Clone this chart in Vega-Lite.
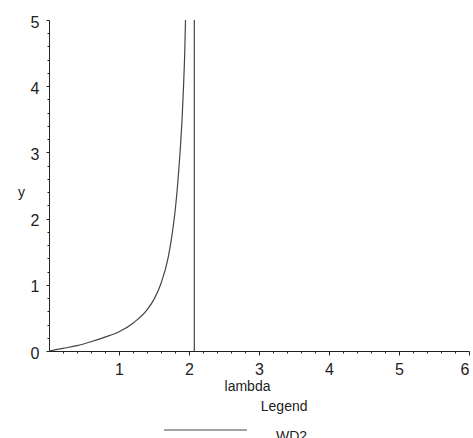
{
  "$schema": "https://vega.github.io/schema/vega-lite/v6.json",
  "autosize": "none",
  "width": 420,
  "height": 331,
  "padding": {"left": 49, "top": 20, "right": 4, "bottom": 87},
  "background": "white",
  "config": {
    "view": {"stroke": null},
    "font": "Liberation Sans, Arial, sans-serif",
    "axis": {"grid": false, "domainColor": "#222", "tickColor": "#222", "labelColor": "#222", "titleColor": "#222", "labelFont": "Liberation Sans, Arial, sans-serif", "titleFont": "Liberation Sans, Arial, sans-serif", "labelFontSize": 16, "titleFontSize": 14, "titleFontWeight": "normal", "domainWidth": 1, "tickWidth": 1}
  },
  "data": {
    "values": [
      {"x": 0.0, "y": 0.0, "seg": "curve", "series": "WD2"},
      {"x": 0.2, "y": 0.04, "seg": "curve", "series": "WD2"},
      {"x": 0.4, "y": 0.08, "seg": "curve", "series": "WD2"},
      {"x": 0.6, "y": 0.14, "seg": "curve", "series": "WD2"},
      {"x": 0.8, "y": 0.21, "seg": "curve", "series": "WD2"},
      {"x": 1.0, "y": 0.29, "seg": "curve", "series": "WD2"},
      {"x": 1.2, "y": 0.42, "seg": "curve", "series": "WD2"},
      {"x": 1.4, "y": 0.62, "seg": "curve", "series": "WD2"},
      {"x": 1.5, "y": 0.78, "seg": "curve", "series": "WD2"},
      {"x": 1.6, "y": 1.02, "seg": "curve", "series": "WD2"},
      {"x": 1.7, "y": 1.4, "seg": "curve", "series": "WD2"},
      {"x": 1.75, "y": 1.7, "seg": "curve", "series": "WD2"},
      {"x": 1.8, "y": 2.1, "seg": "curve", "series": "WD2"},
      {"x": 1.83, "y": 2.42, "seg": "curve", "series": "WD2"},
      {"x": 1.855, "y": 2.75, "seg": "curve", "series": "WD2"},
      {"x": 1.88, "y": 3.12, "seg": "curve", "series": "WD2"},
      {"x": 1.9, "y": 3.48, "seg": "curve", "series": "WD2"},
      {"x": 1.92, "y": 3.95, "seg": "curve", "series": "WD2"},
      {"x": 1.94, "y": 4.55, "seg": "curve", "series": "WD2"},
      {"x": 1.95, "y": 5.0, "seg": "curve", "series": "WD2"},
      {"x": 2.076, "y": 0.0, "seg": "asym", "series": "WD2"},
      {"x": 2.076, "y": 5.0, "seg": "asym", "series": "WD2"}
    ]
  },
  "layer": [
    {
      "mark": {"type": "line", "strokeWidth": 1.2, "clip": true, "interpolate": "monotone"},
      "encoding": {
        "x": {"field": "x", "type": "quantitative", "scale": {"domain": [0, 6], "nice": false, "zero": false},
          "axis": {"values": [1, 2, 3, 4, 5, 6], "tickSize": 4, "labelPadding": 6, "labelBaseline": "top", "title": "lambda", "titleX": 198, "titleY": 28, "titleBaseline": "top", "titleAnchor": null}},
        "y": {"field": "y", "type": "quantitative", "scale": {"domain": [0, 5], "nice": false},
          "axis": {"values": [0, 1, 2, 3, 4, 5], "tickSize": 3, "labelPadding": 7, "labelBaseline": "middle", "labelOffset": 2, "title": "y", "titleAngle": 0, "titleX": -28, "titleY": 172, "titleBaseline": "middle", "titleAlign": "center"}},
        "color": {"field": "series", "type": "nominal", "scale": {"range": ["#444444"]},
          "legend": {"orient": "none", "legendX": 149.5, "legendY": 380, "title": "Legend", "titleAnchor": "end", "titleFontSize": 14, "titleFontWeight": "normal", "titleColor": "#222", "titlePadding": 9, "padding": 0, "symbolType": "M-8.3,0H8.3", "symbolSize": 100, "symbolStrokeWidth": 1, "labelOffset": 63.5, "labelFontSize": 14, "labelColor": "#222", "labelBaseline": "top", "labelFont": "Liberation Sans, Arial, sans-serif", "titleFont": "Liberation Sans, Arial, sans-serif"}},
        "detail": {"field": "seg"}
      }
    },
    {
      "mark": {"type": "point", "opacity": 0},
      "encoding": {
        "x": {"field": "x", "type": "quantitative",
          "axis": {"orient": "bottom", "values": [0.2, 0.4, 0.6, 0.8, 1.2, 1.4, 1.6, 1.8, 2.2, 2.4, 2.6, 2.8, 3.2, 3.4, 3.6, 3.8, 4.2, 4.4, 4.6, 4.8, 5.2, 5.4, 5.6, 5.8], "labels": false, "domain": false, "tickSize": 2, "title": null}},
        "y": {"field": "y", "type": "quantitative",
          "axis": {"orient": "left", "values": [0.2, 0.4, 0.6, 0.8, 1.2, 1.4, 1.6, 1.8, 2.2, 2.4, 2.6, 2.8, 3.2, 3.4, 3.6, 3.8, 4.2, 4.4, 4.6, 4.8], "labels": false, "domain": false, "tickSize": 2, "title": null}}
      }
    }
  ],
  "resolve": {"axis": {"x": "independent", "y": "independent"}}
}
